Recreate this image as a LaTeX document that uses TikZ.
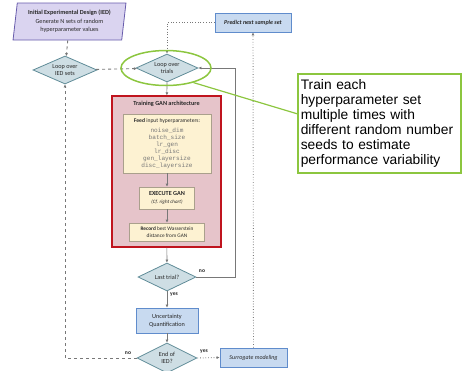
\documentclass[tikz,border=0pt]{standalone}
\usepackage{fontspec}
\setmainfont{Carlito}
\setmonofont{Liberation Mono}
\newfontfamily\calloutfont{Liberation Sans}
\usetikzlibrary{arrows.meta,shapes.geometric,positioning}
\definecolor{iedfill}{RGB}{218,212,240}
\definecolor{ieddraw}{RGB}{104,92,172}
\definecolor{diafill}{RGB}{206,222,228}
\definecolor{diadraw}{RGB}{96,140,152}
\definecolor{bluefill}{RGB}{200,218,240}
\definecolor{bluedraw}{RGB}{96,140,204}
\definecolor{ganfill}{RGB}{230,196,202}
\definecolor{gandraw}{RGB}{192,20,30}
\definecolor{creamfill}{RGB}{253,242,210}
\definecolor{creamdraw}{RGB}{170,160,140}
\definecolor{callgreen}{RGB}{140,198,63}
\definecolor{linegray}{RGB}{120,120,120}
\definecolor{txtgray}{RGB}{40,40,40}
\newcommand\hyp[1]{{\ttfamily\fontsize{6.1}{7}\selectfont\color{linegray}#1}}
\tikzset{
    basic/.style   = {draw, font=\fontsize{6.2}{7.6}\selectfont, align=center, text=txtgray, inner sep=1pt},
    decision/.style = {basic, diamond, aspect=2.2, fill=diafill, draw=diadraw, line width=0.8pt, inner sep=0pt},
    bluebox/.style = {basic, rectangle, fill=bluefill, draw=bluedraw, line width=0.8pt},
    creambox/.style = {basic, rectangle, fill=creamfill, draw=creamdraw, line width=0.6pt},
    flow/.style    = {->, draw=linegray, line width=0.7pt},
    iedflow/.style = {flow, dashed, line width=0.9pt},
    predflow/.style = {flow, dotted, line width=0.9pt},
    lbl/.style     = {font=\fontsize{5.6}{6}\selectfont\bfseries, text=txtgray, inner sep=0pt}
}

\begin{document}
\begin{tikzpicture}[x=1pt, y=-1pt, >={Latex[length=3pt,width=3pt]}]
    \useasboundingbox (0,0) rectangle (468,370);
    % left column
    \node[basic, trapezium, trapezium left angle=82, trapezium right angle=98,
          trapezium stretches=true, minimum width=113pt, minimum height=37pt,
          fill=iedfill, draw=ieddraw, line width=0.8pt, font=\fontsize{6.2}{8.5}\selectfont]
        (ied) at (69.5,21.5) {\textbf{Initial Experimental Design (IED)}\\Generate N sets of random\\hyperparameter values};
    \node[decision, minimum width=64pt, minimum height=28pt] (loopIED) at (65,70) {Loop over\\IED sets};
    % main column
    \node[decision, minimum width=62pt, minimum height=28pt] (loopTrials) at (167,68) {Loop over\\trials};
    \node[basic, rectangle, fill=ganfill, draw=gandraw, line width=1.2pt,
          minimum width=109pt, minimum height=151pt] (gan) at (166.5,171.5) {};
    \node[lbl, font=\fontsize{6.2}{7}\selectfont\bfseries] (ganTitle) at (166.5,104) {Training GAN architecture};
    \node[creambox, minimum width=88pt, minimum height=59pt, font=\fontsize{5.6}{7}\selectfont] (feed) at (167,143.5)
        {\textbf{Feed} input hyperparameters:\\[2.5pt]
         \hyp{noise\_dim}\\\hyp{batch\_size}\\\hyp{lr\_gen}\\\hyp{lr\_disc}\\\hyp{gen\_layersize}\\\hyp{disc\_layersize}};
    \node[creambox, minimum width=55pt, minimum height=22pt] (execGAN) at (167,198)
        {\textbf{EXECUTE GAN}\\{\fontsize{5}{6}\selectfont\itshape (Cf. right chart)}};
    \node[creambox, minimum width=75pt, minimum height=18pt, font=\fontsize{5.3}{6.5}\selectfont] (record) at (167,232)
        {\textbf{Record} best Wasserstein\\distance from GAN};
    \node[decision, minimum width=58pt, minimum height=28pt] (lastTrial) at (167,277) {Last trial?};
    \node[bluebox, minimum width=62pt, minimum height=25pt] (uq) at (167,320.5) {Uncertainty\\Quantification};
    \node[decision, minimum width=60pt, minimum height=30pt] (endIED) at (167,358) {End of\\IED?};
    % right column
    \node[bluebox, minimum width=67pt, minimum height=19pt, font=\fontsize{6}{7}\selectfont\itshape] (surrogate) at (253.5,357.5) {Surrogate modeling};
    \node[bluebox, minimum width=76pt, minimum height=19pt, font=\fontsize{6}{7}\selectfont\itshape\bfseries] (predict) at (253,22.5) {Predict next sample set};
    \coordinate (loopBack) at (235,0);
    % connectors
    \draw[iedflow] (ied) -- (loopIED);
    \draw[iedflow] (loopIED) -- (loopTrials);
    \draw[flow] (loopTrials) -- (gan);
    \draw[flow] (feed) -- (execGAN);
    \draw[flow] (execGAN) -- (record);
    \draw[flow] (gan) -- (lastTrial);
    \draw[flow] (lastTrial.east) -- (lastTrial.east -| loopBack) |- (loopTrials.east);
    \draw[flow] (lastTrial) -- (uq);
    \draw[flow] (uq) -- (endIED);
    \draw[iedflow] (endIED.west) -| (loopIED.south);
    \draw[predflow] (endIED.east) -- (surrogate.west);
    \draw[predflow] (surrogate) -- (predict);
    \draw[predflow] (predict.west) -| (loopTrials.north);
    \node[lbl] (noTrial) at (202,271) {no};
    \node[lbl] (yesTrial) at (174,295) {yes};
    \node[lbl] (noIED) at (128,353) {no};
    \node[lbl] (yesIED) at (204,352) {yes};
    % callout
    \node[ellipse, draw=callgreen, line width=1.5pt, minimum width=90pt, minimum height=35pt, inner sep=0pt] (ring) at (166,68) {};
    \node[draw=callgreen, line width=1.5pt, fill=white, anchor=north west, align=left,
          text width=157pt, inner sep=3pt, minimum height=99pt,
          font=\calloutfont\fontsize{13.8}{15}\selectfont] (note) at (297,73)
        {Train each\\hyperparameter set\\multiple times with\\different random number\\seeds to estimate\\performance variability};
    \draw[callgreen, line width=1.2pt] (ring.-28) -- ([yshift=9.5pt]note.west);
\end{tikzpicture}
\end{document}
